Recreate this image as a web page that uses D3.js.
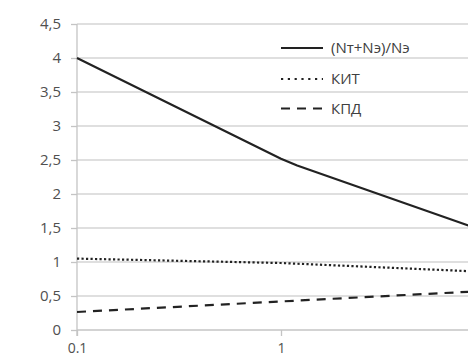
<!DOCTYPE html>
<html lang="ru">
<head>
    <meta charset="UTF-8">
    <title>(Nт+Nэ)/Nэ, КИТ, КПД</title>
    <script src="https://d3js.org/d3.v7.min.js"></script>
    <style>
        body {
            margin: 0;
            background: #fff;
            font-family: "Open Sans", Arial, sans-serif;
        }
        svg { display: block; }
        .grid line { stroke: #d4d4d4; stroke-width: 1.3; }
        .axis path, .axis line { stroke: #c4c4c4; stroke-width: 1.3; }
        .axis text { fill: #505050; font-size: 15px; font-family: "Open Sans", Arial, sans-serif; }
        .legend text { fill: #404040; font-size: 15px; }
    </style>
</head>
<body>
<svg id="chart" width="468" height="359"></svg>
<script>
    // x values (log scale)
    const xTotal = [0.1, 1, 1.2, 10];
    const yTotal = [4.0, 2.52, 2.42, 1.45];

    const xKit = [0.1, 1, 10];
    const yKit = [1.05, 0.985, 0.855];

    const xKpd = [0.1, 1, 10];
    const yKpd = [0.265, 0.42, 0.575];

    const yTicks = [0, 0.5, 1, 1.5, 2, 2.5, 3, 3.5, 4, 4.5];
    const xTicks = [0.1, 1];

    const seriesNames = ["(Nт+Nэ)/Nэ", "КИТ", "КПД"];
    const dashes = [null, "2.2,2.3", "9,7"];

    const svg = d3.select("#chart");

    const x = d3.scaleLog().domain([0.1, 10]).range([77, 485]);
    const y = d3.scaleLinear().domain([0, 4.5]).range([330, 24]);

    // horizontal gridlines
    svg.append("g")
        .attr("class", "grid")
        .selectAll("line")
        .data(yTicks.filter(d => d > 0))
        .join("line")
        .attr("x1", x(0.1))
        .attr("x2", 468)
        .attr("y1", d => y(d))
        .attr("y2", d => y(d));

    const fmt = d => String(d).replace(".", ",");

    svg.append("g")
        .attr("class", "axis")
        .attr("transform", `translate(${x(0.1)},0)`)
        .call(d3.axisLeft(y).tickValues(yTicks).tickFormat(fmt).tickSize(6).tickPadding(10))
        .call(g => g.select(".domain").attr("d", `M0,${y(4.5)}V${y(0) + 6}`));

    svg.append("g")
        .attr("class", "axis")
        .attr("transform", `translate(0,${y(0)})`)
        .call(d3.axisBottom(x).tickValues(xTicks).tickFormat(d => d === 0.1 ? "0.1" : "1").tickSize(6).tickPadding(7))
        .call(g => g.select(".domain").attr("d", `M${x(0.1)},0H468`))
        .call(g => g.selectAll(".tick text").attr("dy", "0.71em").style("font-size", "14px"));

    const line = d3.line()
        .x(d => x(d[0]))
        .y(d => y(d[1]));

    const series = [
        d3.zip(xTotal, yTotal),
        d3.zip(xKit, yKit),
        d3.zip(xKpd, yKpd)
    ];

    series.forEach((s, i) => {
        svg.append("path")
            .datum(s)
            .attr("fill", "none")
            .attr("stroke", "#222")
            .attr("stroke-width", 2.2)
            .attr("stroke-linejoin", "round")
            .attr("stroke-dasharray", dashes[i])
            .attr("d", line);
    });

    // legend
    const legendY = [48, 79, 108.5];
    const legend = svg.append("g").attr("class", "legend");
    seriesNames.forEach((name, i) => {
        legend.append("line")
            .attr("x1", 281).attr("x2", 323)
            .attr("y1", legendY[i]).attr("y2", legendY[i])
            .attr("stroke", "#222")
            .attr("stroke-width", 2.2)
            .attr("stroke-dasharray", i === 1 ? "2.2,4.6" : dashes[i]);
        legend.append("text")
            .attr("x", 331)
            .attr("y", legendY[i] + 5)
            .text(name);
    });
</script>
</body>
</html>
